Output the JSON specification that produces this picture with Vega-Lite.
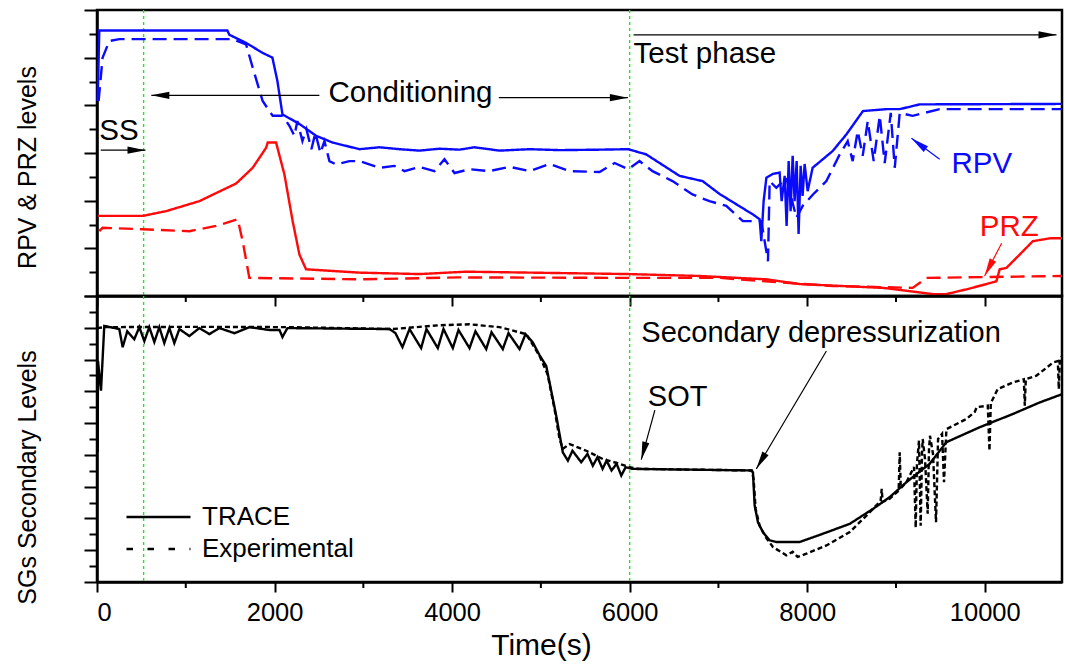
{
"$schema": "https://vega.github.io/schema/vega-lite/v6.json",
"padding": {"left": 13, "top": 7, "right": 1, "bottom": 4},
"bounds": "flush",
"spacing": 0,
"config": {
  "font": "Liberation Sans",
  "view": {"stroke": "black", "strokeWidth": 2.5},
  "axis": {"labelFont": "Liberation Sans", "titleFont": "Liberation Sans", "titleFontWeight": "normal", "titleColor": "black", "labelColor": "black", "domainColor": "black", "tickColor": "black", "domainWidth": 2.5, "tickWidth": 2, "grid": false},
  "axisX": {"tickCount": 200},
  "axisY": {"tickCount": 200},
  "text": {"font": "Liberation Sans"}
},
"datasets": {
  "top": [
    {"s":"RPV","k":"TRACE","t":7,"v":4.09},{"s":"RPV","k":"TRACE","t":26,"v":5.57},{"s":"RPV","k":"TRACE","t":1468,"v":5.57},{"s":"RPV","k":"TRACE","t":1491,"v":5.48},{"s":"RPV","k":"TRACE","t":1679,"v":5.31},{"s":"RPV","k":"TRACE","t":1866,"v":5.10},{"s":"RPV","k":"TRACE","t":1976,"v":5.00},{"s":"RPV","k":"TRACE","t":2032,"v":4.51},{"s":"RPV","k":"TRACE","t":2089,"v":3.81},{"s":"RPV","k":"TRACE","t":2280,"v":3.61},{"s":"RPV","k":"TRACE","t":2468,"v":3.36},{"s":"RPV","k":"TRACE","t":2652,"v":3.22},{"s":"RPV","k":"TRACE","t":2956,"v":3.08},{"s":"RPV","k":"TRACE","t":3181,"v":3.12},{"s":"RPV","k":"TRACE","t":3407,"v":3.08},{"s":"RPV","k":"TRACE","t":3632,"v":3.05},{"s":"RPV","k":"TRACE","t":3858,"v":3.09},{"s":"RPV","k":"TRACE","t":4083,"v":3.07},{"s":"RPV","k":"TRACE","t":4252,"v":3.12},{"s":"RPV","k":"TRACE","t":4534,"v":3.05},{"s":"RPV","k":"TRACE","t":4872,"v":3.08},{"s":"RPV","k":"TRACE","t":5210,"v":3.06},{"s":"RPV","k":"TRACE","t":5661,"v":3.07},{"s":"RPV","k":"TRACE","t":5984,"v":3.08},{"s":"RPV","k":"TRACE","t":6187,"v":2.97},{"s":"RPV","k":"TRACE","t":6562,"v":2.52},{"s":"RPV","k":"TRACE","t":6822,"v":2.41},{"s":"RPV","k":"TRACE","t":7013,"v":2.14},{"s":"RPV","k":"TRACE","t":7389,"v":1.71},{"s":"RPV","k":"TRACE","t":7464,"v":1.61},{"s":"RPV","k":"TRACE","t":7483,"v":1.15},{"s":"RPV","k":"TRACE","t":7509,"v":1.99},{"s":"RPV","k":"TRACE","t":7540,"v":2.48},{"s":"RPV","k":"TRACE","t":7611,"v":2.56},{"s":"RPV","k":"TRACE","t":7689,"v":2.59},{"s":"RPV","k":"TRACE","t":7712,"v":1.99},{"s":"RPV","k":"TRACE","t":7746,"v":2.52},{"s":"RPV","k":"TRACE","t":7768,"v":1.47},{"s":"RPV","k":"TRACE","t":7791,"v":2.83},{"s":"RPV","k":"TRACE","t":7813,"v":1.78},{"s":"RPV","k":"TRACE","t":7836,"v":2.94},{"s":"RPV","k":"TRACE","t":7858,"v":1.99},{"s":"RPV","k":"TRACE","t":7881,"v":2.83},{"s":"RPV","k":"TRACE","t":7903,"v":1.30},{"s":"RPV","k":"TRACE","t":7926,"v":2.73},{"s":"RPV","k":"TRACE","t":7948,"v":2.10},{"s":"RPV","k":"TRACE","t":7971,"v":2.77},{"s":"RPV","k":"TRACE","t":8005,"v":2.20},{"s":"RPV","k":"TRACE","t":8061,"v":2.69},{"s":"RPV","k":"TRACE","t":8286,"v":3.04},{"s":"RPV","k":"TRACE","t":8441,"v":3.39},{"s":"RPV","k":"TRACE","t":8628,"v":3.88},{"s":"RPV","k":"TRACE","t":8892,"v":3.92},{"s":"RPV","k":"TRACE","t":9042,"v":3.92},{"s":"RPV","k":"TRACE","t":9267,"v":4.02},{"s":"RPV","k":"TRACE","t":10870,"v":4.03},
    {"s":"RPV","k":"Experimental","t":18,"v":4.09},{"s":"RPV","k":"Experimental","t":63,"v":5.00},{"s":"RPV","k":"Experimental","t":139,"v":5.35},{"s":"RPV","k":"Experimental","t":251,"v":5.39},{"s":"RPV","k":"Experimental","t":1525,"v":5.39},{"s":"RPV","k":"Experimental","t":1679,"v":5.28},{"s":"RPV","k":"Experimental","t":1754,"v":4.79},{"s":"RPV","k":"Experimental","t":1866,"v":4.09},{"s":"RPV","k":"Experimental","t":1979,"v":3.78},{"s":"RPV","k":"Experimental","t":2092,"v":3.78},{"s":"RPV","k":"Experimental","t":2167,"v":3.57},{"s":"RPV","k":"Experimental","t":2224,"v":3.36},{"s":"RPV","k":"Experimental","t":2257,"v":3.67},{"s":"RPV","k":"Experimental","t":2314,"v":3.25},{"s":"RPV","k":"Experimental","t":2359,"v":3.50},{"s":"RPV","k":"Experimental","t":2415,"v":3.08},{"s":"RPV","k":"Experimental","t":2460,"v":3.42},{"s":"RPV","k":"Experimental","t":2517,"v":3.00},{"s":"RPV","k":"Experimental","t":2562,"v":3.25},{"s":"RPV","k":"Experimental","t":2618,"v":2.83},{"s":"RPV","k":"Experimental","t":2693,"v":2.76},{"s":"RPV","k":"Experimental","t":2843,"v":2.83},{"s":"RPV","k":"Experimental","t":2956,"v":2.83},{"s":"RPV","k":"Experimental","t":3181,"v":2.69},{"s":"RPV","k":"Experimental","t":3351,"v":2.73},{"s":"RPV","k":"Experimental","t":3463,"v":2.62},{"s":"RPV","k":"Experimental","t":3632,"v":2.71},{"s":"RPV","k":"Experimental","t":3801,"v":2.62},{"s":"RPV","k":"Experimental","t":3914,"v":2.87},{"s":"RPV","k":"Experimental","t":4027,"v":2.58},{"s":"RPV","k":"Experimental","t":4196,"v":2.66},{"s":"RPV","k":"Experimental","t":4421,"v":2.62},{"s":"RPV","k":"Experimental","t":4647,"v":2.71},{"s":"RPV","k":"Experimental","t":4872,"v":2.62},{"s":"RPV","k":"Experimental","t":5097,"v":2.77},{"s":"RPV","k":"Experimental","t":5323,"v":2.62},{"s":"RPV","k":"Experimental","t":5661,"v":2.60},{"s":"RPV","k":"Experimental","t":5830,"v":2.79},{"s":"RPV","k":"Experimental","t":5984,"v":2.66},{"s":"RPV","k":"Experimental","t":6111,"v":2.83},{"s":"RPV","k":"Experimental","t":6258,"v":2.62},{"s":"RPV","k":"Experimental","t":6483,"v":2.41},{"s":"RPV","k":"Experimental","t":6708,"v":2.13},{"s":"RPV","k":"Experimental","t":6899,"v":1.99},{"s":"RPV","k":"Experimental","t":7088,"v":1.89},{"s":"RPV","k":"Experimental","t":7275,"v":1.57},{"s":"RPV","k":"Experimental","t":7483,"v":1.57},{"s":"RPV","k":"Experimental","t":7558,"v":0.73},{"s":"RPV","k":"Experimental","t":7577,"v":2.41},{"s":"RPV","k":"Experimental","t":7652,"v":2.27},{"s":"RPV","k":"Experimental","t":7765,"v":2.48},{"s":"RPV","k":"Experimental","t":7878,"v":1.64},{"s":"RPV","k":"Experimental","t":7949,"v":1.89},{"s":"RPV","k":"Experimental","t":8065,"v":2.13},{"s":"RPV","k":"Experimental","t":8216,"v":2.41},{"s":"RPV","k":"Experimental","t":8366,"v":2.97},{"s":"RPV","k":"Experimental","t":8456,"v":3.25},{"s":"RPV","k":"Experimental","t":8512,"v":2.83},{"s":"RPV","k":"Experimental","t":8569,"v":3.46},{"s":"RPV","k":"Experimental","t":8625,"v":2.94},{"s":"RPV","k":"Experimental","t":8682,"v":3.67},{"s":"RPV","k":"Experimental","t":8749,"v":2.83},{"s":"RPV","k":"Experimental","t":8817,"v":3.78},{"s":"RPV","k":"Experimental","t":8873,"v":2.79},{"s":"RPV","k":"Experimental","t":8941,"v":3.84},{"s":"RPV","k":"Experimental","t":8986,"v":2.69},{"s":"RPV","k":"Experimental","t":9042,"v":3.84},{"s":"RPV","k":"Experimental","t":9188,"v":3.78},{"s":"RPV","k":"Experimental","t":9492,"v":3.92},{"s":"RPV","k":"Experimental","t":10870,"v":3.92},
    {"s":"PRZ","k":"TRACE","t":7,"v":1.68},{"s":"PRZ","k":"TRACE","t":514,"v":1.68},{"s":"PRZ","k":"TRACE","t":778,"v":1.78},{"s":"PRZ","k":"TRACE","t":1153,"v":1.99},{"s":"PRZ","k":"TRACE","t":1567,"v":2.36},{"s":"PRZ","k":"TRACE","t":1754,"v":2.69},{"s":"PRZ","k":"TRACE","t":1905,"v":3.11},{"s":"PRZ","k":"TRACE","t":1923,"v":3.22},{"s":"PRZ","k":"TRACE","t":2017,"v":3.22},{"s":"PRZ","k":"TRACE","t":2111,"v":2.55},{"s":"PRZ","k":"TRACE","t":2204,"v":1.57},{"s":"PRZ","k":"TRACE","t":2280,"v":0.87},{"s":"PRZ","k":"TRACE","t":2355,"v":0.56},{"s":"PRZ","k":"TRACE","t":2956,"v":0.49},{"s":"PRZ","k":"TRACE","t":3632,"v":0.46},{"s":"PRZ","k":"TRACE","t":4159,"v":0.51},{"s":"PRZ","k":"TRACE","t":5984,"v":0.46},{"s":"PRZ","k":"TRACE","t":6786,"v":0.42},{"s":"PRZ","k":"TRACE","t":7540,"v":0.35},{"s":"PRZ","k":"TRACE","t":7916,"v":0.25},{"s":"PRZ","k":"TRACE","t":8854,"v":0.17},{"s":"PRZ","k":"TRACE","t":9417,"v":0.04},{"s":"PRZ","k":"TRACE","t":9568,"v":0.04},{"s":"PRZ","k":"TRACE","t":9793,"v":0.14},{"s":"PRZ","k":"TRACE","t":10019,"v":0.25},{"s":"PRZ","k":"TRACE","t":10131,"v":0.31},{"s":"PRZ","k":"TRACE","t":10168,"v":0.56},{"s":"PRZ","k":"TRACE","t":10244,"v":0.59},{"s":"PRZ","k":"TRACE","t":10394,"v":0.87},{"s":"PRZ","k":"TRACE","t":10541,"v":1.15},{"s":"PRZ","k":"TRACE","t":10733,"v":1.21},{"s":"PRZ","k":"TRACE","t":10870,"v":1.21},
    {"s":"PRZ","k":"Experimental","t":26,"v":1.36},{"s":"PRZ","k":"Experimental","t":63,"v":1.43},{"s":"PRZ","k":"Experimental","t":514,"v":1.40},{"s":"PRZ","k":"Experimental","t":1040,"v":1.36},{"s":"PRZ","k":"Experimental","t":1341,"v":1.47},{"s":"PRZ","k":"Experimental","t":1585,"v":1.61},{"s":"PRZ","k":"Experimental","t":1641,"v":1.15},{"s":"PRZ","k":"Experimental","t":1716,"v":0.38},{"s":"PRZ","k":"Experimental","t":2956,"v":0.35},{"s":"PRZ","k":"Experimental","t":4083,"v":0.39},{"s":"PRZ","k":"Experimental","t":5984,"v":0.38},{"s":"PRZ","k":"Experimental","t":7013,"v":0.38},{"s":"PRZ","k":"Experimental","t":8286,"v":0.21},{"s":"PRZ","k":"Experimental","t":9188,"v":0.17},{"s":"PRZ","k":"Experimental","t":9343,"v":0.38},{"s":"PRZ","k":"Experimental","t":10870,"v":0.42}
  ],
  "bottom": [
    {"k":"TRACE","t":7,"v":4.09},{"k":"TRACE","t":11,"v":6.96},{"k":"TRACE","t":45,"v":6.02},{"k":"TRACE","t":82,"v":8.06},{"k":"TRACE","t":251,"v":7.96},{"k":"TRACE","t":289,"v":7.39},{"k":"TRACE","t":341,"v":7.89},{"k":"TRACE","t":420,"v":7.64},{"k":"TRACE","t":477,"v":8.02},{"k":"TRACE","t":533,"v":7.58},{"k":"TRACE","t":589,"v":8.02},{"k":"TRACE","t":646,"v":7.55},{"k":"TRACE","t":702,"v":8.02},{"k":"TRACE","t":758,"v":7.52},{"k":"TRACE","t":815,"v":7.99},{"k":"TRACE","t":871,"v":7.52},{"k":"TRACE","t":928,"v":7.96},{"k":"TRACE","t":1040,"v":7.74},{"k":"TRACE","t":1153,"v":7.99},{"k":"TRACE","t":1266,"v":7.80},{"k":"TRACE","t":1379,"v":7.99},{"k":"TRACE","t":1548,"v":7.83},{"k":"TRACE","t":1717,"v":8.02},{"k":"TRACE","t":1942,"v":7.93},{"k":"TRACE","t":2055,"v":7.93},{"k":"TRACE","t":2089,"v":7.71},{"k":"TRACE","t":2145,"v":7.99},{"k":"TRACE","t":3296,"v":7.96},{"k":"TRACE","t":3362,"v":7.83},{"k":"TRACE","t":3441,"v":7.39},{"k":"TRACE","t":3520,"v":7.96},{"k":"TRACE","t":3651,"v":7.36},{"k":"TRACE","t":3711,"v":7.96},{"k":"TRACE","t":3839,"v":7.36},{"k":"TRACE","t":3903,"v":7.96},{"k":"TRACE","t":4008,"v":7.36},{"k":"TRACE","t":4072,"v":7.93},{"k":"TRACE","t":4196,"v":7.36},{"k":"TRACE","t":4263,"v":7.89},{"k":"TRACE","t":4384,"v":7.33},{"k":"TRACE","t":4444,"v":7.86},{"k":"TRACE","t":4571,"v":7.33},{"k":"TRACE","t":4635,"v":7.83},{"k":"TRACE","t":4759,"v":7.33},{"k":"TRACE","t":4827,"v":7.80},{"k":"TRACE","t":4909,"v":7.54},{"k":"TRACE","t":4984,"v":7.14},{"k":"TRACE","t":5060,"v":6.80},{"k":"TRACE","t":5173,"v":5.23},{"k":"TRACE","t":5247,"v":4.08},{"k":"TRACE","t":5304,"v":3.82},{"k":"TRACE","t":5356,"v":4.13},{"k":"TRACE","t":5454,"v":3.77},{"k":"TRACE","t":5525,"v":4.03},{"k":"TRACE","t":5585,"v":3.66},{"k":"TRACE","t":5638,"v":3.93},{"k":"TRACE","t":5695,"v":3.56},{"k":"TRACE","t":5740,"v":3.82},{"k":"TRACE","t":5796,"v":3.51},{"k":"TRACE","t":5853,"v":3.72},{"k":"TRACE","t":5906,"v":3.35},{"k":"TRACE","t":5954,"v":3.61},{"k":"TRACE","t":6033,"v":3.56},{"k":"TRACE","t":7374,"v":3.51},{"k":"TRACE","t":7389,"v":3.45},{"k":"TRACE","t":7408,"v":2.41},{"k":"TRACE","t":7445,"v":1.88},{"k":"TRACE","t":7501,"v":1.57},{"k":"TRACE","t":7577,"v":1.31},{"k":"TRACE","t":7652,"v":1.26},{"k":"TRACE","t":7915,"v":1.26},{"k":"TRACE","t":8178,"v":1.52},{"k":"TRACE","t":8479,"v":1.83},{"k":"TRACE","t":8741,"v":2.30},{"k":"TRACE","t":8929,"v":2.67},{"k":"TRACE","t":9117,"v":3.14},{"k":"TRACE","t":9379,"v":3.72},{"k":"TRACE","t":9568,"v":4.40},{"k":"TRACE","t":9943,"v":4.87},{"k":"TRACE","t":10319,"v":5.29},{"k":"TRACE","t":10619,"v":5.65},{"k":"TRACE","t":10870,"v":5.91},
    {"k":"Experimental","t":0,"v":7.99},{"k":"Experimental","t":82,"v":8.02},{"k":"Experimental","t":1153,"v":8.03},{"k":"Experimental","t":2168,"v":8.02},{"k":"Experimental","t":3328,"v":7.96},{"k":"Experimental","t":3858,"v":8.08},{"k":"Experimental","t":4196,"v":8.11},{"k":"Experimental","t":4534,"v":8.02},{"k":"Experimental","t":4835,"v":7.80},{"k":"Experimental","t":4984,"v":7.12},{"k":"Experimental","t":5075,"v":6.54},{"k":"Experimental","t":5154,"v":5.44},{"k":"Experimental","t":5210,"v":4.50},{"k":"Experimental","t":5247,"v":4.19},{"k":"Experimental","t":5323,"v":4.34},{"k":"Experimental","t":5511,"v":4.13},{"k":"Experimental","t":5698,"v":3.87},{"k":"Experimental","t":5886,"v":3.72},{"k":"Experimental","t":5999,"v":3.61},{"k":"Experimental","t":6111,"v":3.56},{"k":"Experimental","t":7374,"v":3.51},{"k":"Experimental","t":7396,"v":3.24},{"k":"Experimental","t":7419,"v":2.30},{"k":"Experimental","t":7464,"v":1.77},{"k":"Experimental","t":7531,"v":1.42},{"k":"Experimental","t":7614,"v":1.10},{"k":"Experimental","t":7765,"v":0.84},{"k":"Experimental","t":7836,"v":0.95},{"k":"Experimental","t":7892,"v":0.79},{"k":"Experimental","t":7990,"v":0.89},{"k":"Experimental","t":8216,"v":1.15},{"k":"Experimental","t":8479,"v":1.57},{"k":"Experimental","t":8667,"v":2.09},{"k":"Experimental","t":8827,"v":2.55},{"k":"Experimental","t":8839,"v":2.93},{"k":"Experimental","t":8850,"v":2.52},{"k":"Experimental","t":8929,"v":2.62},{"k":"Experimental","t":9030,"v":2.87},{"k":"Experimental","t":9042,"v":4.08},{"k":"Experimental","t":9054,"v":2.95},{"k":"Experimental","t":9117,"v":3.14},{"k":"Experimental","t":9203,"v":3.62},{"k":"Experimental","t":9222,"v":1.71},{"k":"Experimental","t":9236,"v":3.72},{"k":"Experimental","t":9259,"v":4.45},{"k":"Experimental","t":9278,"v":1.77},{"k":"Experimental","t":9293,"v":4.03},{"k":"Experimental","t":9301,"v":4.50},{"k":"Experimental","t":9327,"v":3.87},{"k":"Experimental","t":9357,"v":2.15},{"k":"Experimental","t":9372,"v":4.19},{"k":"Experimental","t":9383,"v":4.60},{"k":"Experimental","t":9417,"v":4.03},{"k":"Experimental","t":9451,"v":1.88},{"k":"Experimental","t":9474,"v":4.50},{"k":"Experimental","t":9519,"v":4.66},{"k":"Experimental","t":9541,"v":3.14},{"k":"Experimental","t":9568,"v":4.81},{"k":"Experimental","t":9793,"v":5.13},{"k":"Experimental","t":9887,"v":5.35},{"k":"Experimental","t":9909,"v":5.50},{"k":"Experimental","t":10034,"v":5.55},{"k":"Experimental","t":10053,"v":4.13},{"k":"Experimental","t":10068,"v":5.63},{"k":"Experimental","t":10146,"v":6.07},{"k":"Experimental","t":10319,"v":6.28},{"k":"Experimental","t":10440,"v":6.38},{"k":"Experimental","t":10451,"v":5.55},{"k":"Experimental","t":10462,"v":6.38},{"k":"Experimental","t":10582,"v":6.49},{"k":"Experimental","t":10770,"v":6.91},{"k":"Experimental","t":10823,"v":6.95},{"k":"Experimental","t":10834,"v":6.07},{"k":"Experimental","t":10846,"v":7.01},{"k":"Experimental","t":10870,"v":7.11}
  ],
  "phases": [{"t": 525}, {"t": 6000}],
  "xminor": [{"t": 1000}, {"t": 3000}, {"t": 5000}, {"t": 7000}, {"t": 9000}],
  "notes": [
    {"p":"top","s":"note","t":26,"v":3.27,"label":"SS"},
    {"p":"top","s":"note","t":2607,"v":4.06,"label":"Conditioning"},
    {"p":"top","s":"note","t":6044,"v":4.88,"label":"Test phase"},
    {"p":"top","s":"RPV","t":9625,"v":2.57,"label":"RPV"},
    {"p":"top","s":"PRZ","t":9943,"v":1.26,"label":"PRZ"},
    {"p":"bottom","s":"note","t":6131,"v":7.54,"label":"Secondary depressurization"},
    {"p":"bottom","s":"note","t":6205,"v":5.55,"label":"SOT"}
  ],
  "arrows": [
    {"p":"top","s":"note","t0":42,"v0":3.06,"t1":546,"v1":3.06,"ang":0},
    {"p":"top","s":"note","t0":2505,"v0":4.21,"t1":612,"v1":4.21,"ang":180},
    {"p":"top","s":"note","t0":4526,"v0":4.16,"t1":5980,"v1":4.16,"ang":0},
    {"p":"top","s":"note","t0":6044,"v0":5.48,"t1":10808,"v1":5.48,"ang":0},
    {"p":"top","s":"RPV","t0":9492,"v0":2.87,"t1":9174,"v1":3.31,"ang":216.9},
    {"p":"top","s":"PRZ","t0":10190,"v0":1.105,"t1":9998,"v1":0.42,"ang":117.5},
    {"p":"bottom","s":"note","t0":8216,"v0":7.27,"t1":7427,"v1":3.56,"ang":120.5},
    {"p":"bottom","s":"note","t0":6284,"v0":5.41,"t1":6131,"v1":3.85,"ang":104.7}
  ]
},
"vconcat": [
  {
    "width": 965, "height": 286,
    "encoding": {
      "x": {"field": "t", "type": "quantitative", "scale": {"domain": [0, 10870], "nice": false, "zero": false},
        "axis": {"values": [0,2000,4000,6000,8000,10000], "tickCount": 200, "labels": false, "title": null, "tickSize": 10}}
    },
    "layer": [
      {"data": {"name": "phases"}, "mark": {"type": "rule", "color": "#1fe61f", "strokeDash": [3, 3], "strokeWidth": 1.4}, "encoding": {}},
      {"data": {"name": "top"},
       "mark": {"type": "line", "strokeWidth": 2.4},
       "encoding": {
         "y": {"field": "v", "type": "quantitative", "scale": {"domain": [0, 6], "nice": false, "zero": false},
           "axis": {"values": [0,0.5,1,1.5,2,2.5,3,3.5,4,4.5,5,5.5,6], "tickCount": 200, "labels": false, "title": "RPV & PRZ levels",
             "titleFontSize": 25, "titleX": -62, "titleY": 157, "titleBaseline": "alphabetic", "titleAngle": -90, "titleAlign": "center",
             "tickSize": 13, "tickDash": {"condition": {"test": "datum.value % 1 !== 0", "value": [8, 40]}, "value": [1, 0]}}},
         "color": {"field": "s", "type": "nominal", "scale": {"domain": ["RPV", "PRZ", "note"], "range": ["#0a0aff", "#ff0a0a", "black"]}, "legend": null},
         "strokeDash": {"field": "k", "type": "nominal", "scale": {"domain": ["TRACE", "Experimental"], "range": [[1, 0], [14, 7]]}, "legend": null}
       }},
      {"data": {"name": "xminor"},
       "mark": {"type": "rule", "color": "black", "strokeWidth": 2, "y2Offset": 6},
       "encoding": {"y": {"datum": 0, "type": "quantitative"}, "y2": {"datum": 0}}},
      {"data": {"name": "arrows"}, "transform": [{"filter": "datum.p === 'top'"}],
       "mark": {"type": "rule", "strokeWidth": 1.2},
       "encoding": {"x": {"field": "t0", "type": "quantitative"}, "y": {"field": "v0", "type": "quantitative"}, "x2": {"field": "t1"}, "y2": {"field": "v1"},
         "color": {"field": "s", "type": "nominal"}}},
      {"data": {"name": "arrows"}, "transform": [{"filter": "datum.p === 'top'"}],
       "mark": {"type": "point", "shape": "M0,0L-2,-0.4L-2,0.4Z", "filled": true, "opacity": 1, "size": 324},
       "encoding": {"x": {"field": "t1", "type": "quantitative"}, "y": {"field": "v1", "type": "quantitative"},
         "angle": {"field": "ang", "type": "quantitative", "scale": null},
         "color": {"field": "s", "type": "nominal"}}},
      {"data": {"name": "notes"}, "transform": [{"filter": "datum.p === 'top'"}],
       "mark": {"type": "text", "align": "left", "baseline": "alphabetic", "fontSize": 29.5},
       "encoding": {"y": {"field": "v", "type": "quantitative"}, "text": {"field": "label"},
         "color": {"field": "s", "type": "nominal"}}}
    ]
  },
  {
    "width": 965, "height": 286,
    "encoding": {
      "x": {"field": "t", "type": "quantitative", "scale": {"domain": [0, 10870], "nice": false, "zero": false},
        "axis": {"values": [0,2000,4000,6000,8000,10000], "tickCount": 200, "format": "d",
          "labelFontSize": 25.5, "labelPadding": 8,
          "title": "Time(s)", "titleFontSize": 30, "titleX": 444, "titleY": 72, "titleBaseline": "alphabetic",
          "tickSize": 10}}
    },
    "resolve": {"scale": {"strokeDash": "independent"}, "legend": {"strokeDash": "independent"}},
    "layer": [
      {"data": {"name": "phases"}, "mark": {"type": "rule", "color": "#1fe61f", "strokeDash": [3, 3], "strokeWidth": 1.4}, "encoding": {}},
      {"data": {"name": "bottom"},
       "mark": {"type": "line", "strokeWidth": 2.4, "color": "black"},
       "encoding": {
         "y": {"field": "v", "type": "quantitative", "scale": {"domain": [0, 9], "nice": false, "zero": false},
           "axis": {"values": [0,0.5,1,1.5,2,2.5,3,3.5,4,4.5,5,5.5,6,6.5,7,7.5,8,8.5,9], "tickCount": 200, "labels": false, "title": "SGs Secondary Levels",
             "titleFontSize": 25, "titleX": -62, "titleY": 181, "titleBaseline": "alphabetic", "titleAngle": -90, "titleAlign": "center",
             "tickSize": 13, "tickDash": {"condition": {"test": "datum.value % 1 !== 0", "value": [8, 40]}, "value": [1, 0]}}},
         "strokeDash": {"field": "k", "type": "nominal", "scale": {"domain": ["TRACE", "Experimental"], "range": [[1, 0], [5, 3]]}, "legend": null}
       }},
      {"data": {"name": "xminor"},
       "mark": {"type": "rule", "color": "black", "strokeWidth": 2, "y2Offset": 6},
       "encoding": {"y": {"datum": 0, "type": "quantitative"}, "y2": {"datum": 0}}},
      {"data": {"name": "bottom"}, "transform": [{"filter": "false"}],
       "mark": {"type": "line", "strokeWidth": 2.4, "color": "black"},
       "encoding": {
         "y": {"field": "v", "type": "quantitative"},
         "strokeDash": {"field": "k", "type": "nominal", "scale": {"domain": ["TRACE", "Experimental"], "range": [[1, 0], [6.5, 14.5]]},
           "legend": {"orient": "none", "legendX": 28, "legendY": 205, "title": null, "symbolType": "stroke", "symbolSize": 4096,
             "symbolStrokeWidth": 2.4, "symbolStrokeColor": "black", "clipHeight": 32, "labelFontSize": 26, "labelOffset": 10,
             "labelColor": "black", "labelFont": "Liberation Sans", "rowPadding": 0, "padding": 0}}
       }},
      {"data": {"name": "arrows"}, "transform": [{"filter": "datum.p === 'bottom'"}],
       "mark": {"type": "rule", "strokeWidth": 1.2, "color": "black"},
       "encoding": {"x": {"field": "t0", "type": "quantitative"}, "y": {"field": "v0", "type": "quantitative"}, "x2": {"field": "t1"}, "y2": {"field": "v1"}}},
      {"data": {"name": "arrows"}, "transform": [{"filter": "datum.p === 'bottom'"}],
       "mark": {"type": "point", "shape": "M0,0L-2,-0.4L-2,0.4Z", "filled": true, "opacity": 1, "size": 324, "color": "black"},
       "encoding": {"x": {"field": "t1", "type": "quantitative"}, "y": {"field": "v1", "type": "quantitative"},
         "angle": {"field": "ang", "type": "quantitative", "scale": null}}},
      {"data": {"name": "notes"}, "transform": [{"filter": "datum.p === 'bottom'"}],
       "mark": {"type": "text", "align": "left", "baseline": "alphabetic", "fontSize": 29, "color": "black"},
       "encoding": {"y": {"field": "v", "type": "quantitative"}, "text": {"field": "label"}}}
    ]
  }
],
"resolve": {"scale": {"color": "independent", "strokeDash": "independent"}, "legend": {"strokeDash": "independent", "color": "independent"}}
}
